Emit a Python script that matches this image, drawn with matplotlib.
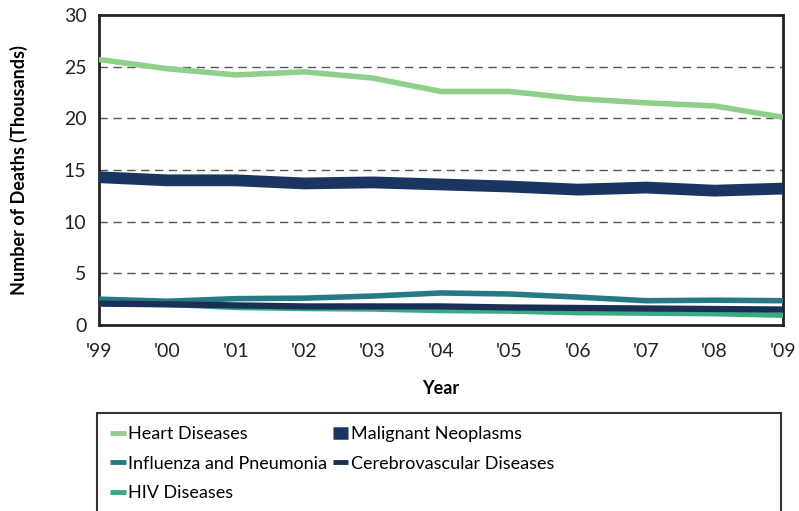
import matplotlib
matplotlib.use("Agg")
import matplotlib.pyplot as plt
from matplotlib.lines import Line2D
from matplotlib.patches import Rectangle

years = ["'99", "'00", "'01", "'02", "'03", "'04", "'05", "'06", "'07", "'08", "'09"]
heart = [25.7, 24.8, 24.2, 24.5, 23.9, 22.6, 22.6, 21.9, 21.5, 21.2, 20.1]
malignant = [14.3, 14.0, 14.0, 13.7, 13.8, 13.6, 13.4, 13.1, 13.3, 13.0, 13.2]
influenza = [2.5, 2.3, 2.55, 2.6, 2.8, 3.1, 3.0, 2.7, 2.35, 2.4, 2.35]
cerebro = [2.07, 2.0, 1.9, 1.8, 1.8, 1.8, 1.7, 1.65, 1.6, 1.55, 1.5]
hiv = [2.05, 2.0, 1.7, 1.6, 1.55, 1.4, 1.35, 1.2, 1.15, 1.1, 0.95]

series = [
    ("Heart Diseases", heart, "#8fcf8a", 4.0),
    ("Malignant Neoplasms", malignant, "#1a3560", 8.5),
    ("Influenza and Pneumonia", influenza, "#267a85", 4.0),
    ("Cerebrovascular Diseases", cerebro, "#1a2f55", 4.5),
    ("HIV Diseases", hiv, "#3aaa80", 4.0),
]

plt.rcParams['font.family'] = ['Lato', 'DejaVu Sans']

fig = plt.figure(figsize=(7.99, 5.11), dpi=100)
ax = fig.add_axes([99/799, 1-325/511, (783-99)/799, (325-15)/511])

x = list(range(len(years)))
for name, vals, col, lw in [series[4], series[2], series[3], series[1], series[0]]:
    ax.plot(x, vals, color=col, lw=lw, solid_capstyle='butt', solid_joinstyle='miter', zorder=3)

ax.set_xlim(0, len(years)-1)
ax.set_ylim(0, 30)
ax.set_xticks(x)
ax.set_xticklabels(years)
ax.set_yticks([0, 5, 10, 15, 20, 25, 30])
for yv in [5, 10, 15, 20, 25]:
    ax.axhline(yv, color='#555555', lw=1.0, ls=(0, (6, 4)), zorder=1)
for s in ax.spines.values():
    s.set_linewidth(2)
    s.set_color('#222222')
ax.tick_params(axis='y', length=0, labelsize=14, colors='#222222', pad=9)
ax.tick_params(axis='x', length=0, labelsize=14, colors='#222222', pad=13)
ax.set_ylabel("Number of Deaths (Thousands)", fontsize=13, fontweight='bold', labelpad=26)
ax.set_xlabel("Year", fontsize=13, fontweight='bold', labelpad=14)

h = {name: Line2D([0], [0], color=col, lw=(9 if name == "Malignant Neoplasms" else 3.5),
                  solid_capstyle='butt', label=name) for name, vals, col, lw in series}
order = ["Heart Diseases", "Influenza and Pneumonia", "HIV Diseases",
         "Malignant Neoplasms", "Cerebrovascular Diseases"]
leg = fig.legend(handles=[h[n] for n in order], loc='upper left', bbox_to_anchor=(103/799, 1-419/511),
                 ncol=2, frameon=False, fontsize=13, handlelength=0.85, handletextpad=0.15,
                 columnspacing=0.3, labelspacing=0.75, borderaxespad=0)
fig.patches.append(Rectangle((97/799, -0.01), (781-97)/799, (511-413)/511 + 0.01,
                             transform=fig.transFigure, fill=False, ec='#333333', lw=1.5))

fig.savefig("out.png", dpi=100)
